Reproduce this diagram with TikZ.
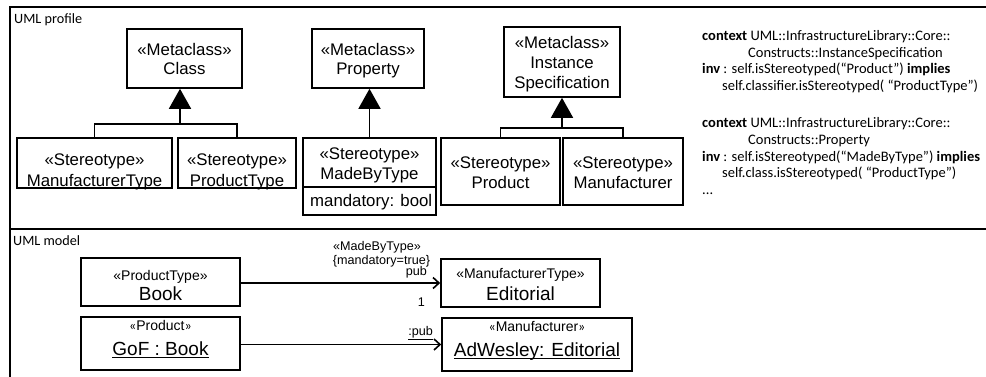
\documentclass[tikz,border=0pt]{standalone}
\usepackage{fontspec}
\setmainfont{Liberation Sans}
\newfontfamily\carlito{Carlito}
\usetikzlibrary{arrows.meta}
\newcommand\myul[1]{\setbox0\hbox{#1}\rlap{\rule[-3.4pt]{\wd0}{1.3pt}}\box0}
\tikzset{
  box/.style={draw, line width=1.6pt, inner sep=0pt, rectangle},
  big/.style={font=\fontsize{16.8}{19.5}\selectfont, inner sep=0pt, anchor=base},
  mid/.style={font=\fontsize{14}{16}\selectfont, inner sep=0pt, anchor=base},
  huge/.style={font=\fontsize{19}{22}\selectfont, inner sep=0pt, anchor=base},
  lbl/.style={font=\fontsize{12.6}{14}\selectfont, inner sep=0pt, anchor=base},
  ocl/.style={font=\carlito\fontsize{14.5}{16.7}\selectfont, inner sep=0pt, anchor=base west},
  ttl/.style={font=\carlito\fontsize{14.2}{16.7}\selectfont, inner sep=0pt, anchor=base west},
  ln/.style={line width=1.6pt},
  gen/.style={line width=1.6pt, -{Triangle[length=20pt,width=22pt]}},
  assoc/.style={line width=1.6pt, -{Straight Barb[length=6pt,width=11pt]}},
  frame/.style={line width=2pt}
}
\begin{document}
\begin{tikzpicture}[x=1pt,y=-1pt]
\useasboundingbox (0,0) rectangle (986,377);
% frame
\draw[frame] (986,7) -- (10,7) -- (10,377);
\draw[frame] (10,229) -- (986,229);
\node[ttl] (tprof) at (14,24) {UML profile};
\node[ttl] (tmodel) at (13,245) {UML model};

% metaclasses
\node[box, minimum width=115pt, minimum height=59pt] (cls) at (184.5,58.5) {};
\node[big] (cls1) at (184.5,56) {«Metaclass»};
\node[big] (cls2) at (184.5,75) {Class};

\node[box, minimum width=112pt, minimum height=59pt] (prop) at (368,58.5) {};
\node[big] (prop1) at (368,56) {«Metaclass»};
\node[big] (prop2) at (368,75) {Property};

\node[box, minimum width=116pt, minimum height=70pt] (inst) at (562,62) {};
\node[big] (inst1) at (562,49) {«Metaclass»};
\node[big] (inst2) at (562,69) {Instance};
\node[big] (inst3) at (562,89) {Specification};

% stereotypes
\node[box, minimum width=155pt, minimum height=50pt] (mt) at (94.5,163) {};
\node[big] (mt1) at (94.5,166) {«Stereotype»};
\node[big] (mt2) at (94.5,186) {ManufacturerType};

\node[box, minimum width=118pt, minimum height=50pt] (pt) at (237,163) {};
\node[big] (pt1) at (237,166) {«Stereotype»};
\node[big] (pt2) at (237,186) {ProductType};

\node[box, minimum width=133pt, minimum height=49pt] (mb) at (369.5,162.5) {};
\node[box, minimum width=133pt, minimum height=28pt] (mbattr) at (369.5,201) {};
\node[big] (mb1) at (369.5,160) {«Stereotype»};
\node[big] (mb2) at (369.5,179) {MadeByType};
\node[big, anchor=base west] (mb3) at (310,207) {mandatory: bool};

\node[box, minimum width=119pt, minimum height=67pt] (prod) at (500.5,171.5) {};
\node[big] (prod1) at (500.5,169) {«Stereotype»};
\node[big] (prod2) at (500.5,189) {Product};

\node[box, minimum width=120pt, minimum height=67pt] (manu) at (623,171.5) {};
\node[big] (manu1) at (623,169) {«Stereotype»};
\node[big] (manu2) at (623,189) {Manufacturer};

% generalisations / extensions
\coordinate (j1) at (180,124);
\draw[ln] (mt.north) -- (mt.north |- j1) -- (pt.north |- j1) -- (pt.north);
\draw[gen] (j1) -- (cls.south -| j1);
\draw[gen] (mb.north) -- (prop.south -| mb.north);
\coordinate (j3) at (562,128);
\draw[ln] (prod.north) -- (prod.north |- j3) -- (manu.north |- j3) -- (manu.north);
\draw[gen] (j3) -- (inst.south);

% OCL
\node[ocl] (o1) at (702,41) {\textbf{context} UML::InfrastructureLibrary::Core::};
\node[ocl] (o2) at (748,57.5) {Constructs::InstanceSpecification};
\node[ocl] (o3) at (702,74) {\textbf{inv} : self.isStereotyped(“Product”) \textbf{implies}};
\node[ocl] (o4) at (722,91) {self.classifier.isStereotyped( “ProductType”)};
\node[ocl] (o5) at (702,128) {\textbf{context} UML::InfrastructureLibrary::Core::};
\node[ocl] (o6) at (748,145) {Constructs::Property};
\node[ocl] (o7) at (702,161.5) {\textbf{inv} : self.isStereotyped(“MadeByType”) \textbf{implies}};
\node[ocl] (o8) at (722,178) {self.class.isStereotyped( “ProductType”)};
\node[ocl] (o9) at (702,195) {...};

% UML model
\node[box, minimum width=159pt, minimum height=48pt] (book) at (160.5,282) {};
\node[mid] (book1) at (160.5,280) {«ProductType»};
\node[huge] (book2) at (160.5,300) {Book};

\node[box, minimum width=159pt, minimum height=48pt] (edit) at (520.5,283) {};
\node[mid] (edit1) at (520.5,278) {«ManufacturerType»};
\node[huge] (edit2) at (520.5,300) {Editorial};

\node[box, minimum width=159pt, minimum height=53pt] (gof) at (160.5,343.5) {};
\node[mid] (gof1) at (160.5,330) {{\carlito«}Product{\carlito»}};
\node[huge] (gof2) at (160.5,355) {\myul{GoF : Book}};

\node[box, minimum width=190pt, minimum height=53pt] (adw) at (537,344.5) {};
\node[mid] (adw1) at (537,331) {{\carlito«}Manufacturer{\carlito»}};
\node[huge] (adw2) at (537,356) {\myul{AdWesley: Editorial}};

\draw[assoc] (book.east |- edit.west) -- (edit.west);
\draw[assoc] (gof.east |- adw.west) -- (adw.west);

\node[lbl] (l1) at (377,250) {«MadeByType»};
\node[lbl] (l2) at (381.5,264) {\{mandatory=true\}};
\node[lbl, anchor=base east] (l3) at (427,275) {pub};
\node[lbl, anchor=base east] (l4) at (425,306) {1};
\node[lbl, anchor=base east] (l5) at (433,335) {\underline{:pub}};
\end{tikzpicture}
\end{document}
